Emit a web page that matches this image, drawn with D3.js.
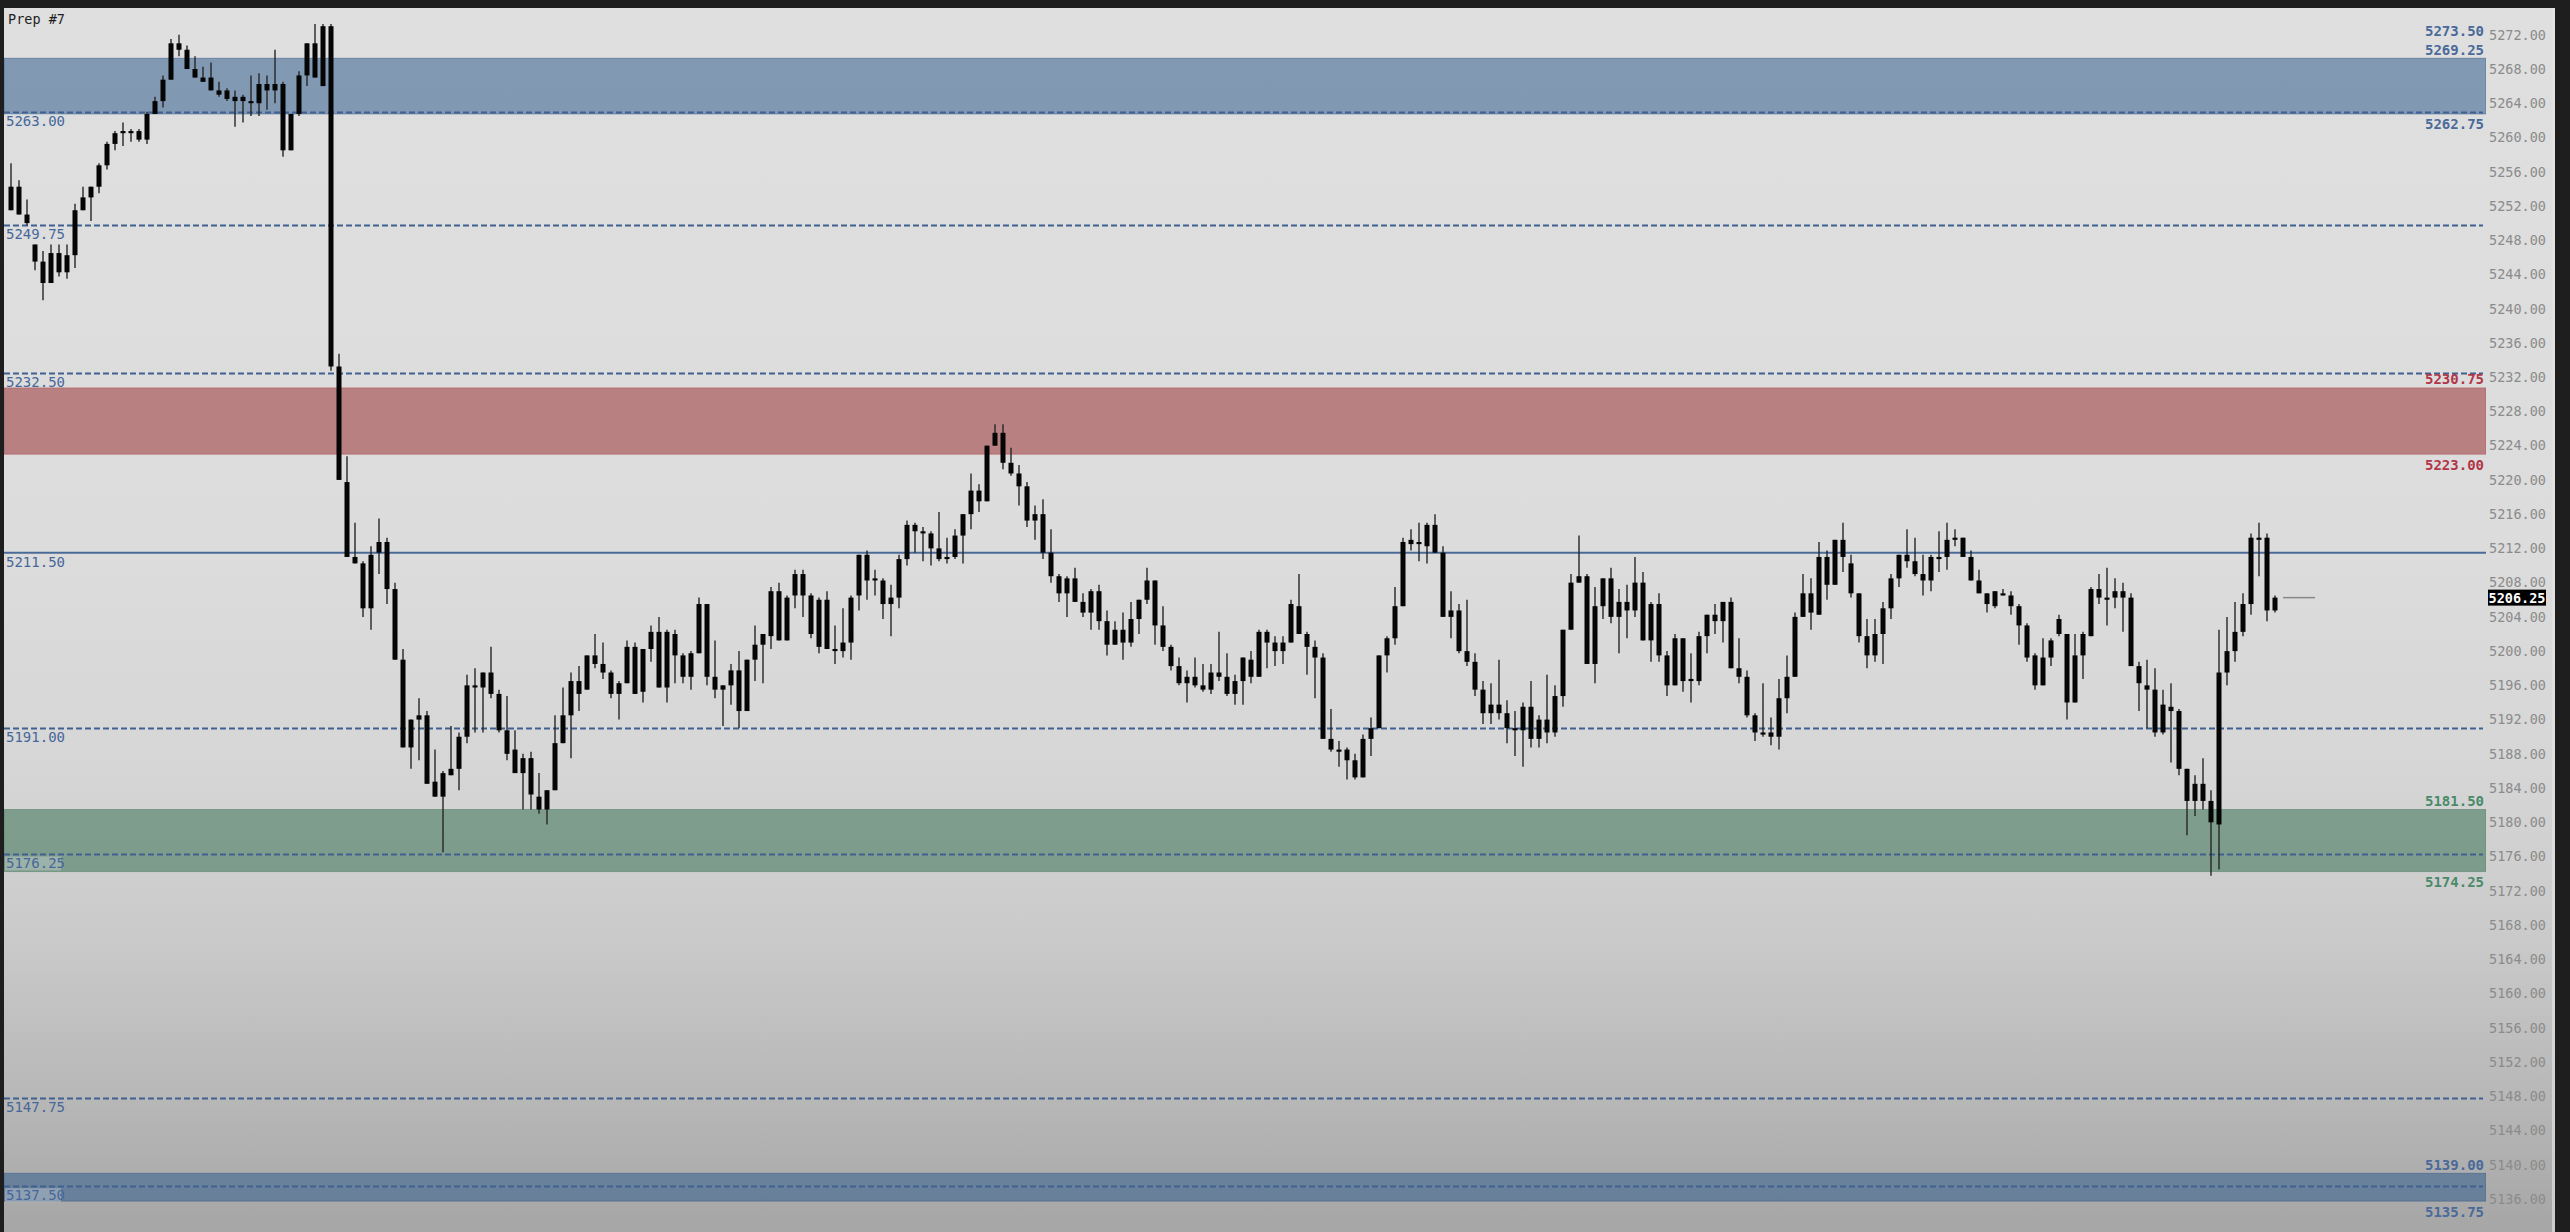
<!DOCTYPE html>
<html><head><meta charset="utf-8">
<script src="https://cdn.jsdelivr.net/npm/d3@7/dist/d3.min.js"></script>
<style>html,body{margin:0;padding:0;background:#1e1e1e;overflow:hidden}</style>
</head><body><svg id="c" width="2570" height="1232"></svg>
<script>
// ---- DATA ----
const title = "Prep #7";
const open = [
5254.25,5254.25,5251,5247.5,5245.5,5243,5244.25,5246.25,5246.25,5251.5,
5253,5254.25,5256.75,5259.25,5260.5,5260.75,5260.75,5259.75,5262.75,5264.25,
5266.75,5270.25,5270.25,5268,5267,5267,5265.5,5265.5,5264.75,5264.75,
5264.25,5264,5265.5,5266.25,5266.25,5262.75,5262.75,5267.25,5271,5266,
5273,5233.25,5219.75,5211,5210.25,5205,5211.5,5212.75,5207.25,5199,
5188.75,5192,5192.5,5184.75,5183,5185.5,5186.25,5190,5195.75,5195.75,
5197.5,5195,5190.75,5188.5,5187.5,5187.5,5183,5181.5,5183.75,5189.25,
5192.5,5195,5195.5,5198.5,5198.5,5197.5,5196.25,5196.25,5200.5,5200.25,
5200.25,5202.25,5195.75,5202,5199.5,5197,5199.75,5205.5,5197,5196,
5196,5197.75,5193,5199,5200.75,5201.75,5207,5206.25,5206.5,5209,
5206.5,5206,5206,5200.25,5200,5201,5206.5,5208.25,5208.5,5208.25,
5206.25,5206.25,5210.75,5214,5214,5213.75,5212,5211,5211,5213.5,
5216,5217.5,5217.5,5224,5225.5,5222,5220.75,5219.25,5216,5216,
5211.5,5208.75,5208.5,5208.5,5205.75,5204.5,5207,5203.5,5202.5,5201,
5201,5203.75,5206,5208.25,5203,5200.5,5198.25,5197,5197,5196,
5195.5,5197,5197,5196.5,5196.5,5199,5197,5201,5201,5200,
5201,5205.25,5202,5200.5,5199.25,5189.75,5188.5,5188.5,5187.25,5185.25,
5189.75,5191,5199.5,5201.5,5205.25,5212.5,5212.75,5212.25,5214.75,5211.5,
5204.75,5204.75,5200,5198.75,5195.5,5193.75,5192.75,5192.75,5191,5190.75,
5193.5,5192,5190.5,5190.5,5194.75,5202.5,5208,5208.75,5205.25,5205.25,
5208.5,5205.75,5204.75,5204.75,5208,5205.5,5205.5,5199.5,5196,5196.5,
5196.75,5196.5,5201.75,5203.5,5203.5,5205.75,5198,5197,5192.5,5190.5,
5190.5,5190,5194.5,5197,5204,5204.5,5204.25,5207.75,5207.75,5211,
5210.25,5206.75,5201.75,5199.5,5202,5205,5208.5,5210.5,5210.5,5209,
5208.25,5210.75,5211,5213,5213.25,5211,5208.25,5206.75,5205.25,5206.75,
5206.5,5205.25,5203,5199.5,5199.25,5199.25,5202,5202,5199.5,5199.5,
5201.75,5206.25,5206.25,5206.25,5207,5206.25,5198.25,5196,5195.5,5193.75,
5193.5,5193,5186.25,5184.5,5182.5,5182.5,5179.75,5197.5,5200,5202.25,
5205.5,5213,5213.25,5204.75];
const high = [
5257,5255,5252.75,5247.5,5246.75,5247.5,5247.5,5247.5,5252.25,5254.25,
5254.25,5257,5259.5,5260.75,5261.75,5261,5261,5263,5264.75,5267.25,
5271.5,5272,5270.75,5269.5,5268.25,5268.75,5266.5,5265.75,5265.5,5265,
5267.25,5267.5,5267.25,5270.25,5266.5,5262.75,5267.75,5271,5273.25,5273.25,
5273.25,5234.75,5222.75,5215,5210.5,5212.25,5215.5,5213.25,5208,5200.25,
5192,5194.5,5193,5188.5,5186,5191.25,5190.5,5197.25,5198,5197.5,
5200.5,5195.5,5194.75,5190.75,5188,5188.25,5185.75,5183.75,5192.5,5195.75,
5197.5,5198.25,5199.5,5202,5201,5197.75,5196.5,5201.25,5201,5200.25,
5203,5204,5202.5,5202.5,5199.75,5200,5206.25,5205.5,5201.25,5196,
5198.5,5200,5199,5203,5202,5207.5,5208,5206.5,5209.5,5209.5,
5206.75,5206.25,5207,5203,5205,5206.5,5211.25,5211.75,5209.5,5208.5,
5207.75,5211.25,5215.25,5215,5214.5,5214,5216.25,5213.25,5214.25,5216,
5220.75,5219.5,5224,5226.5,5226.5,5223.75,5221.75,5219.75,5217,5217.75,
5214.25,5209,5208.75,5209.75,5206.75,5207.25,5207.75,5204.75,5203.5,5204.5,
5205.75,5206,5209.75,5208.25,5205.25,5200.75,5199.25,5197.75,5199.25,5198.5,
5198.5,5202.25,5199.75,5197.25,5199.25,5200,5202.5,5202.5,5201.75,5201.75,
5206,5209,5202.25,5201.25,5199.75,5193.25,5189.5,5188.75,5188,5190.25,
5192.25,5199.5,5201.75,5207.5,5213.25,5214.25,5215,5215,5216,5212.25,
5207,5205.5,5206,5199.75,5196.5,5196.25,5199,5194.25,5193,5194,
5196.5,5192.5,5197.25,5196,5202.5,5209,5213.5,5209,5207.5,5208.5,
5209.75,5207.25,5207.75,5211,5209.25,5205.75,5206.75,5200,5202,5201.5,
5199.75,5202.25,5204.25,5205.5,5205.75,5206.25,5201.5,5197.75,5192.75,5196.25,
5192.25,5196.75,5199.5,5204.5,5209,5208.5,5212.75,5211.75,5213,5215,
5211.25,5206.75,5203.75,5203.75,5205.75,5209,5211.25,5214.25,5213.25,5211.25,
5211.25,5214,5215,5214.25,5213.25,5211.75,5209.5,5206.75,5207,5207.25,
5207,5205.5,5203.25,5199.75,5201.5,5201.5,5204.25,5202,5202,5202.25,
5207.5,5209,5209.75,5208.5,5208,5206.75,5198.75,5199,5198,5195.5,
5196.25,5193.25,5186.25,5185.5,5187.5,5183.75,5202.5,5204,5205.75,5206.75,
5213.75,5215,5213.75,5206.5];
const low = [
5251.5,5251,5249.75,5244.5,5241,5243,5243.75,5243.5,5244.75,5251.5,
5250.25,5253.5,5256.25,5258.5,5259,5259.5,5259.5,5259.25,5262.75,5263.5,
5266.75,5269.5,5268,5267,5266.5,5265.5,5264.75,5264.25,5261.25,5261.75,
5262.5,5262.5,5263.25,5264,5257.75,5258.5,5262.5,5266,5267,5266,
5232.75,5220,5211,5210.25,5204,5202.5,5209,5205.5,5199,5188.75,
5186.25,5187.25,5184.5,5183,5176.5,5185.5,5183.75,5189.25,5190.5,5190.5,
5194.5,5190.5,5187.25,5185.75,5181.5,5181.5,5181,5179.75,5183.75,5189.25,
5187.5,5193,5195.5,5198,5196.75,5194.5,5192,5196.25,5195,5194,
5198.75,5195.75,5194,5196.25,5196.25,5195.5,5199.75,5196,5194.5,5191.25,
5193.75,5191,5193,5196.5,5196.25,5200.25,5201.25,5201.25,5205,5204,
5201.5,5199.75,5200.25,5198.5,5199.25,5199,5204.75,5206,5206.5,5203.75,
5201.75,5205,5210,5211.5,5210.5,5210,5210.5,5210.25,5210.75,5210.25,
5214.25,5216.25,5217.5,5224,5221.25,5220.5,5217,5214.5,5213,5210.75,
5208,5205.75,5204,5205.75,5204,5202.5,5202.5,5199.5,5200.75,5199,
5200.5,5202,5205.5,5200.75,5200,5197.75,5196,5194,5195.75,5195.25,
5195,5196.5,5194.75,5193.75,5193.75,5196.25,5197,5198,5198.25,5198.5,
5201,5202,5197.25,5194.5,5189.75,5188.25,5186.5,5185,5185,5185.25,
5187.75,5191,5197.5,5200.75,5205.25,5211.75,5210.5,5210.25,5211.5,5204,
5201.5,5199.75,5198.25,5194.75,5191.5,5191.5,5192,5189.25,5187.75,5186.5,
5188.75,5188.75,5189.25,5190,5193.5,5202.5,5208,5198.5,5196.25,5203.75,
5203.25,5199.75,5201.5,5204,5201.25,5198.75,5198.75,5194.75,5196,5195.25,
5194,5196,5199.75,5202,5201,5198,5196.25,5192.25,5189.5,5190,
5189,5188.5,5192.75,5197,5204,5202.5,5204.25,5206,5207.75,5209.25,
5206.25,5201,5198,5198.75,5198.5,5203.75,5207.5,5209.75,5208.75,5206.5,
5207,5209.25,5209.5,5212.25,5211,5208.25,5206.75,5204.5,5205,5206.5,
5204.25,5200.75,5198.75,5195.5,5196,5198.25,5201.75,5192,5194,5196.75,
5201.75,5205.5,5203,5205,5202.25,5198.25,5193,5191,5190,5190.25,
5187,5185.5,5178.5,5180.75,5181.5,5173.75,5174.5,5196,5198.75,5201.75,
5204.25,5208.75,5203.5,5204.5];
const close = [
5251.5,5251,5250,5245.5,5243,5246.5,5246.5,5244.25,5251.5,5253,
5254.25,5256.75,5259.25,5260.5,5260.75,5260.5,5259.75,5262.75,5264.25,5266.75,
5271,5271,5268,5267,5266.5,5265.5,5265,5264.5,5264.25,5264.25,
5264,5266.25,5266.25,5265.5,5258.5,5258.5,5267.25,5271,5267,5273,
5233.25,5220,5211,5210.25,5205,5211.25,5212.75,5207.25,5199,5188.75,
5192,5192.5,5184.5,5183,5185.75,5186.25,5190,5196,5196,5197.5,
5195,5190.75,5188,5185.75,5185.75,5183.25,5181.5,5183.75,5189.25,5192.5,
5196.5,5196.5,5199.5,5199.5,5197.5,5195,5195,5200.5,5195,5195.25,
5202.25,5195.75,5202.25,5199.5,5197,5199.75,5205.5,5197,5195.5,5195.5,
5197.75,5193,5199,5200.75,5202,5207,5201.25,5201.25,5209,5206.5,
5202,5200.5,5200.25,5200,5201,5206.25,5211.25,5211.25,5208.25,5205.5,
5205.5,5210.75,5214.75,5214.75,5213.75,5212,5210.75,5210.75,5213.5,5216,
5218.75,5218.75,5224,5225.5,5222,5220.75,5219.25,5215.25,5215.25,5211.5,
5208.75,5206.75,5206.75,5205.75,5204.5,5207,5203.5,5200.75,5200.75,5202.5,
5203.75,5206,5208.25,5203,5200.5,5198.25,5196.25,5196.25,5196,5195.5,
5197.5,5197.5,5195,5195,5199.25,5197,5202.25,5202.25,5200,5201,
5205.5,5202,5200.5,5199.25,5189.75,5188.5,5188.25,5187.25,5185.25,5189.75,
5191,5199.5,5201.5,5205.25,5212.75,5213,5212.5,5214.75,5211.5,5204,
5204,5200,5198.75,5195.5,5192.75,5192.75,5193.75,5191,5190.75,5193.5,
5189.75,5189.75,5192,5194.75,5202.5,5208,5208.75,5198.5,5198.5,5208.5,
5204,5204,5205.75,5208,5201.25,5201.25,5199.5,5196,5201.5,5201.5,
5196.5,5201.75,5204.25,5204.25,5205.75,5198,5197,5192.5,5190.5,5190.25,
5190,5194.5,5197,5204,5206.75,5206.75,5211,5211,5213,5213,
5206.75,5201.75,5199.5,5202,5205,5208.5,5211.25,5211.25,5209,5208.25,
5211,5211,5213,5213.25,5211,5208.25,5206.75,5205.5,5207,5206.5,
5205.25,5203,5199.25,5196,5196,5201.25,5203.75,5194,5194,5202,
5207.25,5207.25,5206,5207,5206.25,5198.25,5196.25,5195.5,5190.5,5190.5,
5193,5186.25,5182.5,5182.5,5184.5,5180,5197.5,5200,5202.25,5205.5,
5213.25,5213.25,5204.75,5206.25];

// price-axis ticks
const yTickValues = d3.range(5136, 5273, 4);
// horizontal levels
const dashedLevels = [5263.00, 5249.75, 5232.50, 5191.00, 5176.25, 5147.75, 5137.50];
const solidLevels = [5211.50];
const leftLabels = [5263.00, 5249.75, 5232.50, 5211.50, 5191.00, 5176.25, 5147.75, 5137.50];
// zones [top, bottom, kind]
const zoneTop    = [5269.25, 5230.75, 5181.50, 5139.00];
const zoneBottom = [5262.75, 5223.00, 5174.25, 5135.75];
const zoneKind   = ["blue", "red", "green", "blue"];
// right-side price labels
const rightLabelValues = [5273.50, 5269.25, 5262.75, 5230.75, 5223.00, 5181.50, 5174.25, 5139.00, 5135.75];
const rightLabelKind   = ["blue", "blue", "blue", "red", "red", "green", "green", "blue", "blue"];
const rightLabelSide   = ["top", "above", "below", "above", "below", "above", "below", "above", "below"];
const lastPrice = 5206.25;

// ---- STYLE / LAYOUT ----
const W = 2570, H = 1232;
const panel = {x0: 4, y0: 8, x1: 2555};
const plotRight = 2486;
const mono = "'DejaVu Sans Mono', 'Liberation Mono', monospace";
const zoneFill = {blue: "rgba(45,88,140,0.52)", red: "rgba(150,36,40,0.5)", green: "rgba(44,104,70,0.5)"};
const zoneEdge = {blue: "rgba(60,95,140,0.55)", red: "rgba(170,70,80,0.45)", green: "rgba(60,120,90,0.45)"};
const labelColor = {blue: "#4a6a99", red: "#b23548", green: "#4a8a6a"};
const lineColor = "#3f6090";

const svg = d3.select("#c");
const defs = svg.append("defs");
const grad = defs.append("linearGradient").attr("id", "bg").attr("x1", 0).attr("y1", 0).attr("x2", 0).attr("y2", 1);
[[0, "#dfdfdf"], [0.45, "#dcdcdc"], [0.62, "#d6d6d6"], [0.75, "#cbcbcb"], [0.88, "#b9b9b9"], [1, "#a6a6a6"]]
  .forEach(([o, c]) => grad.append("stop").attr("offset", o).attr("stop-color", c));
defs.append("clipPath").attr("id", "plotclip").append("rect")
  .attr("x", panel.x0).attr("y", panel.y0).attr("width", plotRight - panel.x0).attr("height", H - panel.y0);

svg.append("rect").attr("width", W).attr("height", H).attr("fill", "#1e1e1e");
svg.append("rect").attr("x", panel.x0).attr("y", panel.y0).attr("width", panel.x1 - panel.x0)
  .attr("height", H - panel.y0).attr("fill", "url(#bg)");

const n = Math.min(open.length, high.length, low.length, close.length);
const x = d3.scaleLinear().domain([0, 283]).range([11, 2275]);
const y = d3.scaleLinear().domain([5136, 5268]).range([1199, 69]);

const plot = svg.append("g").attr("clip-path", "url(#plotclip)");

// zones
const zones = zoneTop.map((t, i) => ({t, b: zoneBottom[i], k: zoneKind[i]}));
plot.selectAll("rect.zone").data(zones).join("rect")
  .attr("x", panel.x0).attr("width", plotRight - panel.x0)
  .attr("y", d => y(d.t)).attr("height", d => y(d.b) - y(d.t))
  .attr("fill", d => zoneFill[d.k]).attr("stroke", d => zoneEdge[d.k]).attr("stroke-width", 1);

// level lines
plot.selectAll("line.dash").data(dashedLevels).join("line")
  .attr("x1", panel.x0).attr("x2", plotRight - 3)
  .attr("y1", d => Math.round(y(d)) + 0.5).attr("y2", d => Math.round(y(d)) + 0.5)
  .attr("stroke", lineColor).attr("stroke-width", 2).attr("stroke-dasharray", "6,3");
plot.selectAll("line.solid").data(solidLevels).join("line")
  .attr("x1", panel.x0).attr("x2", plotRight)
  .attr("y1", d => y(d)).attr("y2", d => y(d))
  .attr("stroke", "#4a6b98").attr("stroke-width", 2);

// left labels (light backing where they sit inside a zone)
const inZone = v => zones.some(z => v <= z.t && v >= z.b);
const fmt = d3.format(".2f");
plot.selectAll("rect.llbg").data(leftLabels.filter(inZone)).join("rect")
  .attr("x", 5).attr("y", d => y(d) + 2).attr("width", 56).attr("height", 14)
  .attr("fill", "rgba(215,220,224,0.35)");
plot.selectAll("text.ll").data(leftLabels).join("text")
  .attr("x", 6).attr("y", d => y(d) + 9).attr("dominant-baseline", "central")
  .attr("font-family", mono).attr("font-size", 14).attr("fill", "#46679a")
  .text(d => fmt(d));

// candles
const idx = d3.range(n);
plot.selectAll("line.wick").data(idx).join("line")
  .attr("x1", i => x(i)).attr("x2", i => x(i))
  .attr("y1", i => y(high[i])).attr("y2", i => y(low[i]))
  .attr("stroke", "#262626").attr("stroke-width", 1.4);
plot.selectAll("rect.body").data(idx).join("rect")
  .attr("x", i => x(i) - 2.5).attr("width", 5)
  .attr("y", i => y(Math.max(open[i], close[i])))
  .attr("height", i => Math.max(2, Math.abs(y(open[i]) - y(close[i]))))
  .attr("fill", "#050505");

// last price marker line
plot.append("line").attr("x1", x(n - 1) + 8).attr("x2", x(n - 1) + 40)
  .attr("y1", y(lastPrice)).attr("y2", y(lastPrice))
  .attr("stroke", "#8a8a8a").attr("stroke-width", 1.5);

// right labels inside plot
const rl = rightLabelValues.map((v, i) => ({v, k: rightLabelKind[i], s: rightLabelSide[i]}));
const offs = {top: 9, above: -8.5, below: 10.5};
svg.selectAll("text.rl").data(rl).join("text")
  .attr("x", plotRight - 2).attr("y", d => y(d.v) + offs[d.s])
  .attr("text-anchor", "end").attr("dominant-baseline", "central")
  .attr("font-family", mono).attr("font-size", 14).attr("font-weight", "bold")
  .attr("fill", d => labelColor[d.k])
  .text(d => fmt(d.v));

// price axis (right)
const axis = d3.axisRight(y).tickValues(yTickValues).tickSize(0).tickPadding(0).tickFormat(fmt);
const ag = svg.append("g").attr("transform", `translate(2489,0)`).call(axis);
ag.select(".domain").remove();
ag.selectAll("text").attr("font-family", mono).attr("font-size", 13.5).attr("fill", "#8b8b8b").attr("dy", "0.32em");

// last price box
svg.append("rect").attr("x", 2488).attr("y", y(lastPrice) - 8).attr("width", 58).attr("height", 16).attr("fill", "#000");
svg.append("text").attr("x", 2517).attr("y", y(lastPrice)).attr("text-anchor", "middle")
  .attr("dominant-baseline", "central").attr("font-family", mono).attr("font-size", 13.5)
  .attr("font-weight", "bold").attr("fill", "#fff").text(fmt(lastPrice));

// title
svg.append("text").attr("x", 8).attr("y", 19).attr("dominant-baseline", "central")
  .attr("font-family", mono).attr("font-size", 13.5).attr("fill", "#1e1e1e").text(title);

// right frame strip
svg.append("rect").attr("x", panel.x1).attr("y", 0).attr("width", W - panel.x1).attr("height", H).attr("fill", "#1e1e1e");
svg.append("rect").attr("x", panel.x1 - 3).attr("y", panel.y0).attr("width", 3).attr("height", H - panel.y0).attr("fill", "#e6e6e6").attr("opacity", 0.6);
</script></body></html>
